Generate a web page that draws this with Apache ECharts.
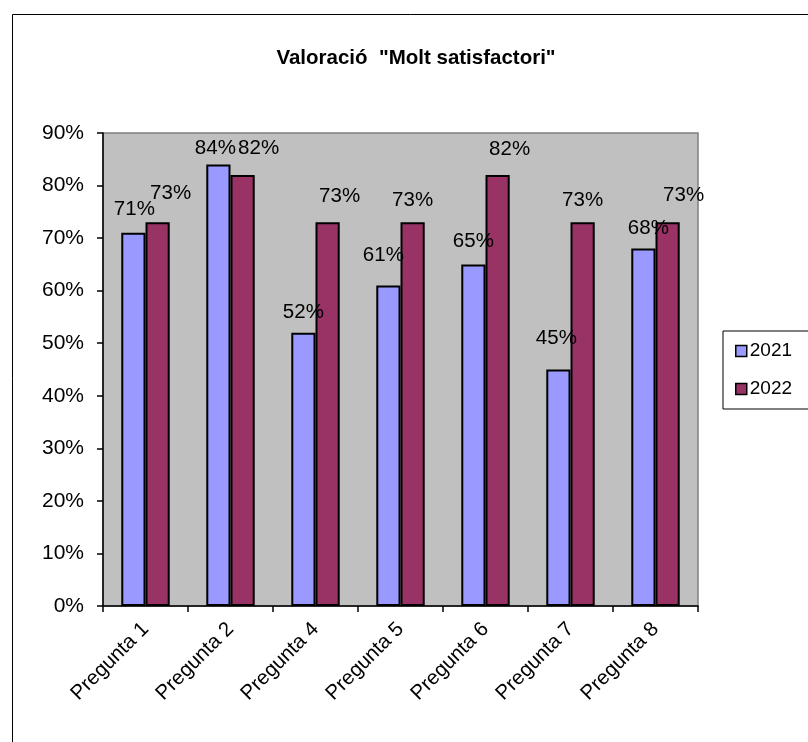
<!DOCTYPE html>
<html>
<head>
<meta charset="utf-8">
<style>
  html, body { margin: 0; padding: 0; background: #ffffff; }
  #chart { width: 808px; height: 742px; }
</style>
<script src="https://cdn.jsdelivr.net/npm/echarts@6/dist/echarts.min.js"></script>
</head>
<body>
<div id="chart"></div>
<script>
// Survey questions and share of "Molt satisfactori" answers (percent)
const categories = ['Pregunta 1', 'Pregunta 2', 'Pregunta 4', 'Pregunta 5', 'Pregunta 6', 'Pregunta 7', 'Pregunta 8'];
const values2021 = [71, 84, 52, 61, 65, 45, 68];
const values2022 = [73, 82, 73, 73, 82, 73, 73];
const seriesNames = ['2021', '2022'];
const yTicks = { min: 0, max: 90, step: 10 };

// Hand-placed data label nudges [dx, dy] in pixels, one per bar
const labelNudge2021 = [[1, -13], [-3, -6], [0, -10], [-5, -20], [0, -13], [-2, -21], [5, -10]];
const labelNudge2022 = [[13, -19], [16, -16], [12, -16], [0, -12], [12, -15], [0, -12], [16, -17]];

const FONT = 'Liberation Sans, Arial, sans-serif';

function barData(values, nudges) {
  return values.map((v, i) => ({
    value: v,
    label: { offset: nudges[i] }
  }));
}

const chart = echarts.init(document.getElementById('chart'), null, { renderer: 'canvas' });

const labelStyle = {
  show: true,
  position: 'top',
  distance: 0,
  color: '#000',
  fontFamily: FONT,
  fontSize: 20.5,
  formatter: p => p.value + '%'
};

chart.setOption({
  animation: false,
  backgroundColor: '#ffffff',
  graphic: [{
    type: 'rect',
    shape: { x: 12.5, y: 14.5, width: 1000, height: 1000 },
    style: { fill: 'none', stroke: '#000', lineWidth: 1 },
    z: -1
  }],
  title: {
    text: 'Valoració  "Molt satisfactori"',
    left: 411,
    top: 43,
    textAlign: 'center',
    textStyle: { fontFamily: FONT, fontWeight: 'bold', fontSize: 20.5, color: '#000' }
  },
  legend: {
    data: seriesNames,
    orient: 'vertical',
    left: 723,
    top: 331,
    padding: [10, 30, 10, 12],
    itemGap: 18,
    itemWidth: 11,
    itemHeight: 11,
    borderColor: '#000',
    borderWidth: 1,
    backgroundColor: '#fff',
    icon: 'rect',
    itemStyle: { borderColor: '#000', borderWidth: 1.5 },
    textStyle: { fontFamily: FONT, fontSize: 19, color: '#000', padding: [0, 0, 0, -2], lineHeight: 20 },
    selectedMode: false
  },
  grid: {
    left: 103,
    right: 110,
    top: 133,
    bottom: 136,
    show: true,
    backgroundColor: '#c0c0c0',
    borderColor: '#808080',
    borderWidth: 1.5
  },
  xAxis: {
    type: 'category',
    data: categories,
    boundaryGap: true,
    axisLine: { show: true, lineStyle: { color: '#000', width: 1.5 } },
    axisTick: { show: true, length: 6, lineStyle: { color: '#000', width: 1.5 } },
    axisLabel: {
      rotate: 45,
      interval: 0,
      margin: 20,
      color: '#000',
      fontFamily: FONT,
      fontSize: 20.5
    }
  },
  yAxis: {
    type: 'value',
    min: yTicks.min,
    max: yTicks.max,
    interval: yTicks.step,
    splitLine: { show: false },
    axisLine: { show: true, lineStyle: { color: '#000', width: 1.5 } },
    axisTick: { show: true, length: 6, lineStyle: { color: '#000', width: 1.5 } },
    axisLabel: {
      margin: 19,
      color: '#000',
      fontFamily: FONT,
      fontSize: 21,
      formatter: '{value}%'
    }
  },
  series: [
    {
      name: seriesNames[0],
      type: 'bar',
      data: barData(values2021, labelNudge2021),
      barGap: '0%',
      barCategoryGap: '43%',
      itemStyle: { color: '#9999ff', borderColor: '#000', borderWidth: 2 },
      label: labelStyle
    },
    {
      name: seriesNames[1],
      type: 'bar',
      data: barData(values2022, labelNudge2022),
      barGap: '0%',
      barCategoryGap: '43%',
      itemStyle: { color: '#993366', borderColor: '#000', borderWidth: 2 },
      label: labelStyle
    }
  ]
});
</script>
</body>
</html>
